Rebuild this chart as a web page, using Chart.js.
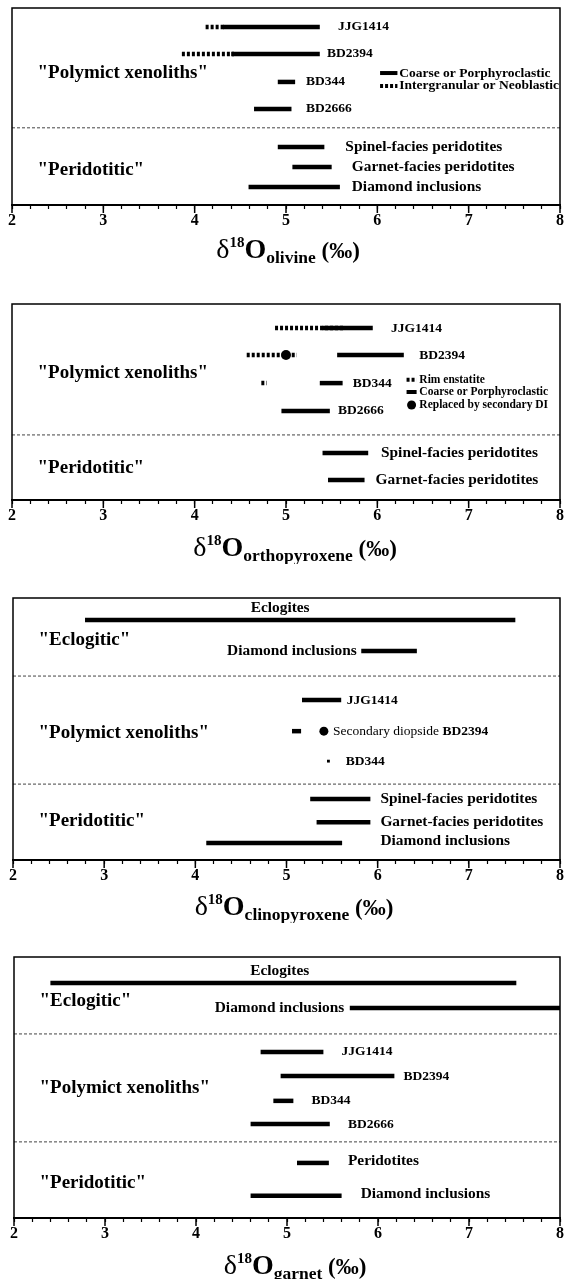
<!DOCTYPE html>
<html lang="en">
<head>
<meta charset="UTF-8">
<title>Oxygen isotope ranges by mineral</title>
<script src="https://cdn.jsdelivr.net/npm/chart.js"></script>
<style>
  body { margin: 0; background: #fff; }
  #wrap { position: relative; width: 566px; height: 1279px; overflow: hidden; }
  canvas { position: absolute; left: 0; }
</style>
</head>
<body>
<div id="wrap">
  <canvas id="olivine"></canvas>
  <canvas id="opx"></canvas>
  <canvas id="cpx"></canvas>
  <canvas id="garnet"></canvas>
</div>

<script>
const SERIF = '"Liberation Serif", "Times New Roman", serif';
const axisTicks = [2, 3, 4, 5, 6, 7, 8];

// ---- olivine
const olNames  = ['JJG1414', 'BD2394', 'BD344', 'BD2666', 'Spinel-facies peridotites', 'Garnet-facies peridotites', 'Diamond inclusions'];
const olRow    = [0.70, 1.70, 2.74, 3.74, 5.15, 5.89, 6.63];
const olCoarse = [[4.31, 5.37], [4.40, 5.37], [4.91, 5.10], [4.65, 5.06], [4.91, 5.42], [5.07, 5.50], [4.59, 5.59]];
const olNeo    = [[4.12, 4.32], [3.86, 4.43], null, null, null, null, null];
const olGroups = [['"Polymict xenoliths"', 2.41], ['"Peridotitic"', 6.0]];
const olSplit  = [4.44];

// ---- orthopyroxene
const opxNames  = ['JJG1414', 'BD2394', 'BD344', 'BD2666', 'Spinel-facies peridotites', 'Garnet-facies peridotites'];
const opxRow    = [0.89, 1.89, 2.93, 3.96, 5.52, 6.52];
const opxCoarse = [[5.40, 5.95], [5.56, 6.29], [5.37, 5.62], [4.95, 5.48], [5.40, 5.90], [5.46, 5.86]];
const opxRim    = [[4.88, 5.64], [4.57, 5.12], [4.73, 4.79], null, null, null];
const opxDI     = [null, 5.00, null, null, null, null];
const opxGroups = [['"Polymict xenoliths"', 2.56], ['"Peridotitic"', 6.07]];
const opxSplit  = [4.85];

// ---- clinopyroxene
const cpxNames  = ['Eclogites', 'Diamond inclusions', 'JJG1414', 'Secondary diopside BD2394', 'BD344', 'Spinel-facies peridotites', 'Garnet-facies peridotites', 'Diamond inclusions'];
const cpxRow    = [0.81, 1.96, 3.78, 4.93, 6.04, 7.44, 8.30, 9.07];
const cpxRange  = [[2.79, 7.51], [5.82, 6.43], [5.17, 5.60], [5.06, 5.16], null, [5.26, 5.92], [5.33, 5.92], [4.12, 5.61]];
const cpxSecDI  = [null, null, null, 5.41, null, null, null, null];
const cpxSingle = [null, null, null, null, 5.46, null, null, null];
const cpxGroups = [['"Eclogitic"', 1.56], ['"Polymict xenoliths"', 5.0], ['"Peridotitic"', 8.26]];
const cpxSplit  = [2.89, 6.89];

// ---- garnet
const grtNames  = ['Eclogites', 'Diamond inclusions', 'JJG1414', 'BD2394', 'BD344', 'BD2666', 'Peridotites', 'Diamond inclusions'];
const grtRow    = [0.96, 1.89, 3.52, 4.41, 5.33, 6.19, 7.63, 8.85];
const grtRange  = [[2.40, 7.52], [5.69, 8.00], [4.71, 5.40], [4.93, 6.18], [4.85, 5.07], [4.60, 5.47], [5.11, 5.46], [4.60, 5.60]];
const grtGroups = [['"Eclogitic"', 1.63], ['"Polymict xenoliths"', 4.85], ['"Peridotitic"', 8.37]];
const grtSplit  = [2.85, 6.85];

// label placement (x in per-mil units, y in row units) and panel geometry
const panels = [
  { id: 'olivine', sub: 'olivine', top: 8, bottom: 205, left: 12, right: 561, titleY: 258, titleX: 288, ymax: 7.3,
    labelX: [5.57, 5.45, 5.22, 5.22, 5.65, 5.72, 5.72],
    legend: { x0: 6.03, x1: 6.22, tx: 6.24, size: 13.5, items: [['solid', 'Coarse or Porphyroclastic', 2.41], ['dotted', 'Intergranular or Neoblastic', 2.89]] } },
  { id: 'opx', sub: 'orthopyroxene', top: 304, bottom: 500, left: 12, right: 561, titleY: 556, titleX: 295, ymax: 7.26,
    labelX: [6.15, 6.46, 5.73, 5.57, 6.04, 5.98],
    legend: { x0: 6.32, x1: 6.43, tx: 6.46, size: 11.5, items: [['dotted', 'Rim enstatite', 2.81], ['solid', 'Coarse or Porphyroclastic', 3.26], ['dot', 'Replaced by secondary DI', 3.74]] } },
  { id: 'cpx', sub: 'clinopyroxene', top: 598, bottom: 860, left: 13, right: 561, titleY: 915, titleX: 294, ymax: 9.70,
    labelX: [4.93, 5.77, 5.66, 5.51, 5.65, 6.03, 6.03, 6.03],
    labelY: [0.37, 1.96, 3.78, 4.93, 6.04, 7.44, 8.30, 8.99],
    align: ['center', 'right'] },
  { id: 'garnet', sub: 'garnet', top: 957, bottom: 1218, left: 14, right: 562, titleY: 1274, titleX: 295, ymax: 9.67,
    labelX: [4.92, 5.63, 5.60, 6.28, 5.27, 5.67, 5.67, 5.81],
    labelY: [0.52, 1.89, 3.52, 4.41, 5.33, 6.19, 7.56, 8.78],
    align: ['center', 'right'] }
];

function seg(r, y, dash, w, color) {
  return { data: [{ x: r[0], y: y }, { x: r[1], y: y }], showLine: true, borderColor: color || '#000',
           borderWidth: w, borderDash: dash, borderCapStyle: 'butt', pointRadius: 0, fill: false };
}
function dot(x, y, r, style) {
  return { data: [{ x: x, y: y }], showLine: false, pointRadius: r, pointStyle: style || 'circle',
           pointBackgroundColor: '#000', pointBorderWidth: 0 };
}
function splits(ys) { return ys.map(y => seg([2, 8], y, [3, 2], 1, '#444')); }

function buildSets(id) {
  let sets = [];
  if (id === 'olivine') {
    sets = splits(olSplit);
    olNeo.forEach((r, i) => { if (r) sets.push(seg(r, olRow[i], [3, 2], 4.5)); });
    olCoarse.forEach((r, i) => sets.push(seg(r, olRow[i], [], 4.5)));
  } else if (id === 'opx') {
    sets = splits(opxSplit);
    opxCoarse.forEach((r, i) => sets.push(seg(r, opxRow[i], [], 4.5)));
    opxRim.forEach((r, i) => { if (r) sets.push(seg(r, opxRow[i], [3, 2], 4.5)); });
    opxDI.forEach((v, i) => { if (v != null) sets.push(dot(v, opxRow[i], 5)); });
  } else if (id === 'cpx') {
    sets = splits(cpxSplit);
    cpxRange.forEach((r, i) => { if (r) sets.push(seg(r, cpxRow[i], [], 4.5)); });
    cpxSecDI.forEach((v, i) => { if (v != null) sets.push(dot(v, cpxRow[i], 4.5)); });
    cpxSingle.forEach((v, i) => { if (v != null) sets.push(dot(v, cpxRow[i], 2, 'rect')); });
  } else {
    sets = splits(grtSplit);
    grtRange.forEach((r, i) => sets.push(seg(r, grtRow[i], [], 4.5)));
  }
  return sets;
}

const info = {
  olivine: { names: olNames, rows: olRow, groups: olGroups },
  opx: { names: opxNames, rows: opxRow, groups: opxGroups },
  cpx: { names: cpxNames, rows: cpxRow, groups: cpxGroups },
  garnet: { names: grtNames, rows: grtRow, groups: grtGroups }
};

function makeOverlay(p) {
  return {
    id: 'overlay',
    afterDatasetsDraw(chart) {
      const { ctx, chartArea: a } = chart;
      const x = chart.scales.x, y = chart.scales.y;
      const d = info[p.id];
      ctx.save();
      ctx.strokeStyle = '#000';
      ctx.lineWidth = 1.5;
      ctx.strokeRect(a.left, a.top, a.right - a.left, a.bottom - a.top);
      axisTicks.forEach(v => {
        const px = x.getPixelForValue(v);
        ctx.beginPath(); ctx.moveTo(px, a.bottom); ctx.lineTo(px, a.bottom + 8); ctx.stroke();
      });

      ctx.fillStyle = '#000';
      ctx.textBaseline = 'middle';
      // group names
      ctx.font = 'bold 19px ' + SERIF;
      ctx.textAlign = 'left';
      d.groups.forEach(g => ctx.fillText(g[0], x.getPixelForValue(2.28), y.getPixelForValue(g[1])));

      // row labels
      d.names.forEach((n, i) => {
        const lx = x.getPixelForValue(p.labelX[i]);
        const ly = y.getPixelForValue(p.labelY ? p.labelY[i] : d.rows[i]);
        const small = /^(BD|JJG)/.test(n);
        ctx.textAlign = (p.align && p.align[i]) || 'left';
        if (n.indexOf('Secondary diopside') === 0) {
          ctx.font = '13.5px ' + SERIF;
          const pre = 'Secondary diopside ';
          ctx.fillText(pre, lx, ly);
          const w = ctx.measureText(pre).width;
          ctx.font = 'bold 13.5px ' + SERIF;
          ctx.fillText(n.slice(pre.length), lx + w, ly);
        } else {
          ctx.font = 'bold ' + (small ? 13.5 : 15.4) + 'px ' + SERIF;
          ctx.fillText(n, lx, ly);
        }
      });

      // legend
      if (p.legend) {
        const L = p.legend;
        const x0 = x.getPixelForValue(L.x0), x1 = x.getPixelForValue(L.x1);
        ctx.textAlign = 'left';
        ctx.font = 'bold ' + L.size + 'px ' + SERIF;
        L.items.forEach(it => {
          const ly = y.getPixelForValue(it[2]);
          if (it[0] === 'dot') {
            ctx.beginPath(); ctx.arc((x0 + x1) / 2, ly, 4.5, 0, Math.PI * 2); ctx.fill();
          } else {
            ctx.lineWidth = 4;
            ctx.setLineDash(it[0] === 'dotted' ? [3, 2] : []);
            ctx.beginPath(); ctx.moveTo(x0, ly); ctx.lineTo(x1, ly); ctx.stroke();
            ctx.setLineDash([]);
          }
          ctx.fillText(it[1], x.getPixelForValue(L.tx), ly);
        });
      }

      // axis title: delta 18 O (mineral) (per mil)
      const base = p.titleY - chart.canvas.offsetTop;
      const parts = [
        ['\u03B4', '28px ', 0],
        ['18', 'bold 15px ', -11],
        ['O', 'bold 28px ', 0],
        [p.sub, 'bold 17.5px ', 5],
        [' (\u2030)', 'bold 23px ', 0]
      ];
      let total = 0;
      parts.forEach(q => { ctx.font = q[1] + SERIF; q.w = ctx.measureText(q[0]).width; total += q.w; });
      let cx = p.titleX - total / 2;
      ctx.textBaseline = 'alphabetic';
      ctx.textAlign = 'left';
      parts.forEach(q => { ctx.font = q[1] + SERIF; ctx.fillText(q[0], cx, base + q[2]); cx += q.w; });
      ctx.restore();
    }
  };
}

const AXIS_H = 28;
panels.forEach(p => {
  const cv = document.getElementById(p.id);
  const top = p.top - 6;
  const h = p.titleY + 8 - top;
  cv.width = 566; cv.height = h;
  cv.style.top = top + 'px';
  new Chart(cv, {
    type: 'scatter',
    data: { datasets: buildSets(p.id) },
    options: {
      responsive: false,
      animation: false,
      events: [],
      layout: { padding: { top: 6, left: p.left, right: 566 - p.right, bottom: h - (p.bottom - top) - AXIS_H } },
      plugins: { legend: { display: false }, tooltip: { enabled: false } },
      scales: {
        x: {
          type: 'linear', min: 2, max: 8,
          afterFit: s => { s.height = AXIS_H; },
          ticks: {
            stepSize: 0.2, autoSkip: false, maxRotation: 0, padding: 2, color: '#000',
            font: { family: SERIF, size: 16, weight: 'bold' },
            callback: v => Math.abs(v - Math.round(v)) < 1e-6 ? String(Math.round(v)) : ''
          },
          grid: { display: true, drawOnChartArea: false, drawTicks: true, tickLength: 4, tickColor: '#000', tickWidth: 1.2 },
          border: { display: true, color: '#000', width: 2 }
        },
        y: { type: 'linear', reverse: true, min: 0, max: p.ymax, display: false }
      }
    },
    plugins: [makeOverlay(p)]
  });
});
</script>
</body>
</html>
